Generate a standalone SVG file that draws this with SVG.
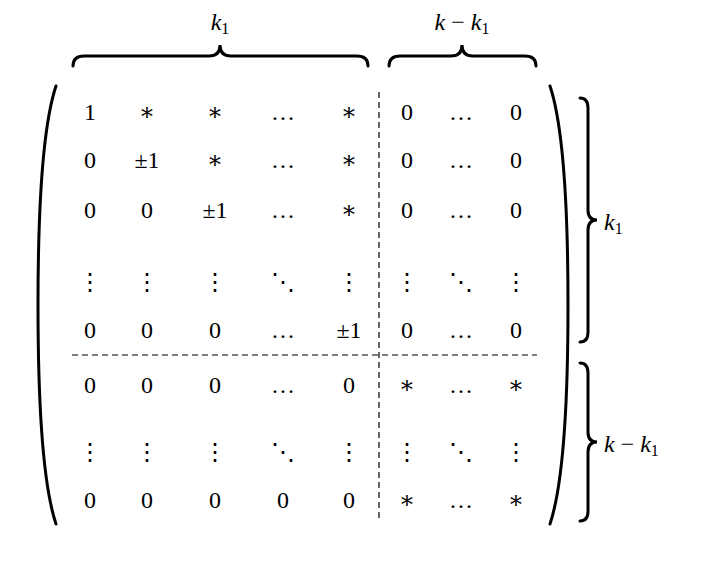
<svg xmlns="http://www.w3.org/2000/svg" width="709" height="567" viewBox="0 0 709 567">
<style>
text{font-family:"Liberation Serif","DejaVu Serif",serif;font-size:24px;text-anchor:middle;dominant-baseline:central;fill:#000}
.i{font-style:italic}
.b{fill:none;stroke:#000;stroke-width:3;stroke-linecap:round}
.d{stroke:#000;stroke-width:1.2;stroke-dasharray:6,4}
</style>
<rect width="709" height="567" fill="#fff"/>
<path class="b" d="M73,66 Q73,56 84,56 L209,56 Q220,56 220,45 Q220,56 231,56 L357,56 Q368,56 368,66"/>
<path class="b" d="M389,66 Q389,56 400,56 L451,56 Q462,56 462,45 Q462,56 473,56 L525,56 Q536,56 536,66"/>
<text x="220" y="22"><tspan class="i">k</tspan><tspan font-size="16" dy="6">1</tspan></text>
<text x="462" y="22"><tspan class="i">k</tspan> − <tspan class="i">k</tspan><tspan font-size="16" dy="6">1</tspan></text>
<path class="b" d="M56,86 Q38,140 38,305 Q38,470 56,524" stroke-width="3.5"/>
<path class="b" d="M550,86 Q568,140 568,305 Q568,470 550,524" stroke-width="3.5"/>
<path class="b" d="M580,98 Q588,98 588,108 L588,210 Q588,220 597,220 Q588,220 588,230 L588,332 Q588,342 580,342"/>
<path class="b" d="M580,363 Q588,363 588,373 L588,432 Q588,442 597,442 Q588,442 588,452 L588,511 Q588,521 580,521"/>
<text x="604" y="222" text-anchor="start" style="text-anchor:start"><tspan class="i">k</tspan><tspan font-size="16" dy="6">1</tspan></text>
<text x="604" y="444" style="text-anchor:start"><tspan class="i">k</tspan> − <tspan class="i">k</tspan><tspan font-size="16" dy="6">1</tspan></text>
<line class="d" x1="379" y1="92" x2="379" y2="522"/>
<line class="d" x1="72" y1="355" x2="537" y2="355"/>
<g>
<text x="90" y="112">1</text><text x="147" y="112">∗</text><text x="215" y="112">∗</text><text x="283" y="112">…</text><text x="349" y="112">∗</text><text x="407" y="112">0</text><text x="461" y="112">…</text><text x="516" y="112">0</text>
<text x="90" y="160">0</text><text x="147" y="160">±1</text><text x="215" y="160">∗</text><text x="283" y="160">…</text><text x="349" y="160">∗</text><text x="407" y="160">0</text><text x="461" y="160">…</text><text x="516" y="160">0</text>
<text x="90" y="210">0</text><text x="147" y="210">0</text><text x="215" y="210">±1</text><text x="283" y="210">…</text><text x="349" y="210">∗</text><text x="407" y="210">0</text><text x="461" y="210">…</text><text x="516" y="210">0</text>
<text x="90" y="282">⋮</text><text x="147" y="282">⋮</text><text x="215" y="282">⋮</text><text x="283" y="282">⋱</text><text x="349" y="282">⋮</text><text x="407" y="282">⋮</text><text x="461" y="282">⋱</text><text x="516" y="282">⋮</text>
<text x="90" y="330">0</text><text x="147" y="330">0</text><text x="215" y="330">0</text><text x="283" y="330">…</text><text x="349" y="330">±1</text><text x="407" y="330">0</text><text x="461" y="330">…</text><text x="516" y="330">0</text>
<text x="90" y="385">0</text><text x="147" y="385">0</text><text x="215" y="385">0</text><text x="283" y="385">…</text><text x="349" y="385">0</text><text x="407" y="385">∗</text><text x="461" y="385">…</text><text x="516" y="385">∗</text>
<text x="90" y="452">⋮</text><text x="147" y="452">⋮</text><text x="215" y="452">⋮</text><text x="283" y="452">⋱</text><text x="349" y="452">⋮</text><text x="407" y="452">⋮</text><text x="461" y="452">⋱</text><text x="516" y="452">⋮</text>
<text x="90" y="500">0</text><text x="147" y="500">0</text><text x="215" y="500">0</text><text x="283" y="500">0</text><text x="349" y="500">0</text><text x="407" y="500">∗</text><text x="461" y="500">…</text><text x="516" y="500">∗</text>
</g>
</svg>
